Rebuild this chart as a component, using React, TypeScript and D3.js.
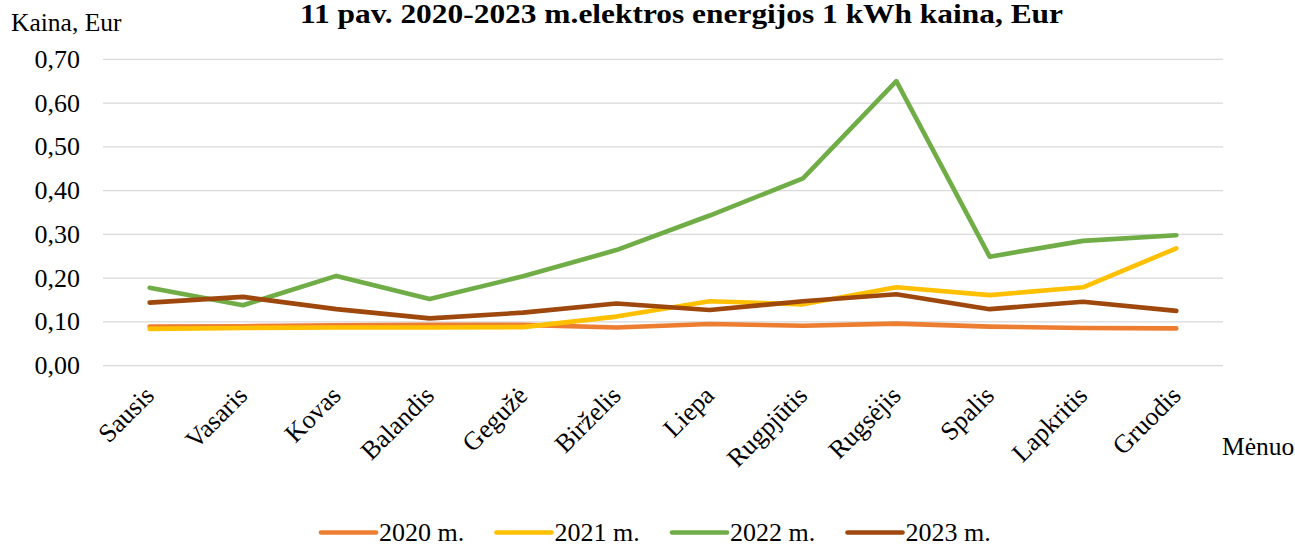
import React from "react";
import * as d3 from "d3";

const months = ["Sausis", "Vasaris", "Kovas", "Balandis", "Gegužė", "Birželis", "Liepa", "Rugpjūtis", "Rugsėjis", "Spalis", "Lapkritis", "Gruodis"];
const s2020 = [0.089, 0.090, 0.092, 0.093, 0.093, 0.087, 0.095, 0.091, 0.096, 0.089, 0.086, 0.085];
const s2021 = [0.084, 0.086, 0.087, 0.087, 0.088, 0.112, 0.147, 0.140, 0.179, 0.161, 0.179, 0.268];
const s2022 = [0.178, 0.138, 0.205, 0.152, 0.204, 0.264, 0.343, 0.428, 0.650, 0.249, 0.285, 0.298];
const s2023 = [0.144, 0.157, 0.129, 0.108, 0.121, 0.142, 0.127, 0.147, 0.163, 0.129, 0.146, 0.125];
const seriesNames = ["2020 m.", "2021 m.", "2022 m.", "2023 m."];
const seriesColors = ["#ED7D31", "#FFC000", "#70AD47", "#9E480E"];
const yTicks = [0, 0.1, 0.2, 0.3, 0.4, 0.5, 0.6, 0.7];

const title = "11 pav. 2020-2023 m.elektros energijos 1 kWh kaina, Eur";
const yTitle = "Kaina, Eur";
const xTitle = "Mėnuo";

const W = 1295;
const H = 544;
const FONT = "'Liberation Serif', 'Times New Roman', serif";

export default function App() {
  const allSeries = [s2020, s2021, s2022, s2023];
  const x = d3.scalePoint<string>().domain(months).range([103, 1223]).padding(0.5);
  const y = d3.scaleLinear().domain([0, 0.7]).range([365.6, 59.3]);
  const line = d3
    .line<number>()
    .x((_, i) => x(months[i]) as number)
    .y((d) => y(d));
  const fmt = (v: number) => v.toFixed(2).replace(".", ",");

  const legendStart = 321;
  const legendStep = 175.5;

  return (
    <svg width={W} height={H} style={{ position: "absolute", left: 0, top: 0, background: "#fff" }} fontFamily={FONT}>
      <rect x={0} y={0} width={W} height={H} fill="#fff" />
      <text x={681.5} y={22.5} textAnchor="middle" fontSize={27.5} fontWeight="bold" textLength={763} lengthAdjust="spacingAndGlyphs">
        {title}
      </text>
      <text x={11} y={31} fontSize={25.5}>{yTitle}</text>
      {yTicks.map((t) => (
        <g key={t}>
          <line x1={103} x2={1223} y1={y(t)} y2={y(t)} stroke="#d9d9d9" strokeWidth={1.3} />
          <text x={80} y={y(t) + 8.5} textAnchor="end" fontSize={26}>{fmt(t)}</text>
        </g>
      ))}
      {months.map((m) => (
        <text key={m} transform={`translate(${(x(m) as number) + 6},${397}) rotate(-45)`} textAnchor="end" fontSize={26}>
          {m}
        </text>
      ))}
      <text x={1222} y={455} fontSize={25.5}>{xTitle}</text>
      {allSeries.map((s, i) => (
        <path key={i} d={line(s) || ""} fill="none" stroke={seriesColors[i]} strokeWidth={4.6} strokeLinecap="round" strokeLinejoin="round" />
      ))}
      {seriesNames.map((n, i) => {
        const lx = legendStart + i * legendStep;
        return (
          <g key={n}>
            <line x1={lx} x2={lx + 55} y1={532.5} y2={532.5} stroke={seriesColors[i]} strokeWidth={4.6} strokeLinecap="round" />
            <text x={lx + 58} y={540.5} fontSize={26}>{n}</text>
          </g>
        );
      })}
    </svg>
  );
}
